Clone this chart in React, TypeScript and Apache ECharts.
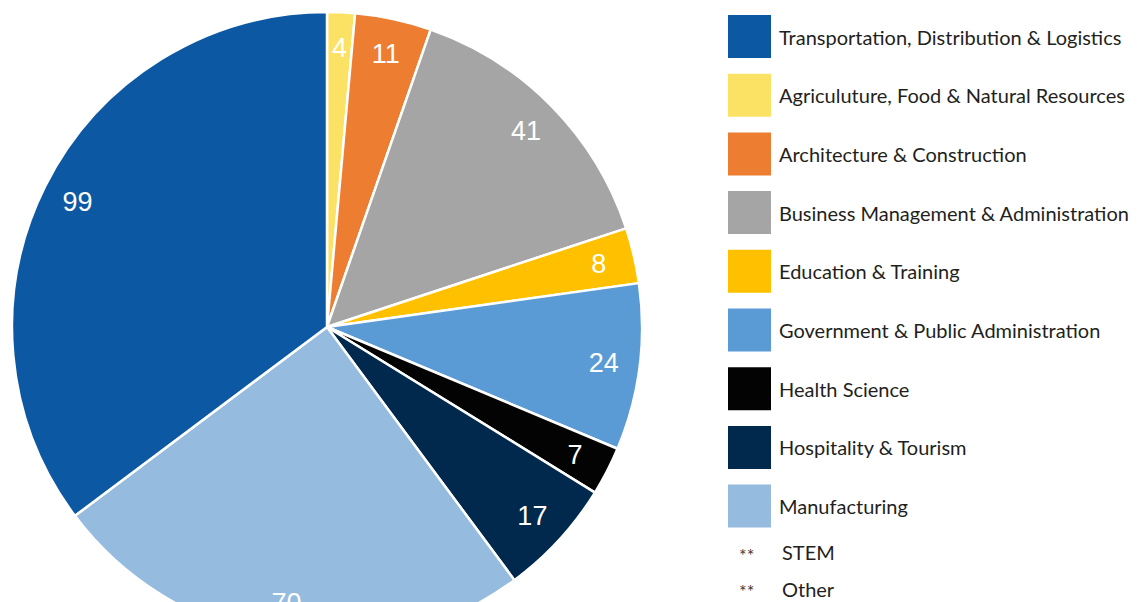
import React, { useEffect, useRef } from "react";
import * as echarts from "echarts";

const categories = [
  "Agriculuture, Food & Natural Resources",
  "Architecture & Construction",
  "Business Management & Administration",
  "Education & Training",
  "Government & Public Administration",
  "Health Science",
  "Hospitality & Tourism",
  "Manufacturing",
  "Transportation, Distribution & Logistics",
];
const values = [4, 11, 41, 8, 24, 7, 17, 70, 99];
const colors = [
  "#FCE264",
  "#ED7D31",
  "#A5A5A5",
  "#FFC000",
  "#5B9BD5",
  "#030303",
  "#00294D",
  "#95BBDF",
  "#0C58A2",
];
const legendOrder = [
  "Transportation, Distribution & Logistics",
  "Agriculuture, Food & Natural Resources",
  "Architecture & Construction",
  "Business Management & Administration",
  "Education & Training",
  "Government & Public Administration",
  "Health Science",
  "Hospitality & Tourism",
  "Manufacturing",
];
const extraLegend = ["STEM", "Other"];

export default function App() {
  const ref = useRef<HTMLDivElement>(null);
  useEffect(() => {
    document.body.style.margin = "0";
    const chart = echarts.init(ref.current!, null, { renderer: "svg" });
    const data = categories.map((c, i) => ({
      name: c,
      value: values[i],
      itemStyle: { color: colors[i] },
    }));
    const cx = 327;
    const cy = 327;
    const r = 315;
    chart.setOption({
      animation: false,
      color: colors,
      legend: {
        data: legendOrder,
        orient: "vertical",
        left: 726,
        top: 13,
        padding: 0,
        icon: "rect",
        itemWidth: 45,
        itemHeight: 45,
        itemGap: 11.7,
        selectedMode: false,
        textStyle: {
          fontFamily: "Lato",
          fontSize: 20,
          color: "#231F20",
          padding: [0, 0, 0, 2],
        },
      },
      graphic: extraLegend.flatMap((t, i) => [
        {
          type: "text",
          left: 739,
          top: 546 + i * 36,
          style: { text: "**", fontFamily: "Lato", fontSize: 18, fill: "#3a3a3a" },
        },
        {
          type: "text",
          left: 782,
          top: 542 + i * 37,
          style: { text: t, fontFamily: "Lato", fontSize: 20, fill: "#231F20" },
        },
      ]),
      series: [
        {
          type: "pie",
          center: [cx, cy],
          radius: [0, r],
          startAngle: 90,
          clockwise: true,
          data,
          label: { show: false },
          labelLine: { show: false },
          itemStyle: { borderColor: "#fff", borderWidth: 2.5 },
          emphasis: { disabled: true },
        },
        {
          type: "pie",
          center: [cx, cy],
          radius: [236, 316],
          startAngle: 90,
          clockwise: true,
          data: categories.map((c, i) => ({ name: c, value: values[i] })),
          itemStyle: { color: "rgba(0,0,0,0)", borderWidth: 0 },
          label: {
            show: true,
            position: "inside",
            formatter: "{c}",
            color: "#fff",
            fontFamily: "Liberation Sans",
            fontSize: 27,
          },
          labelLine: { show: false },
          emphasis: { disabled: true },
          silent: true,
        },
      ],
    });
    return () => chart.dispose();
  }, []);
  return <div ref={ref} style={{ width: 1137, height: 602 }} />;
}
